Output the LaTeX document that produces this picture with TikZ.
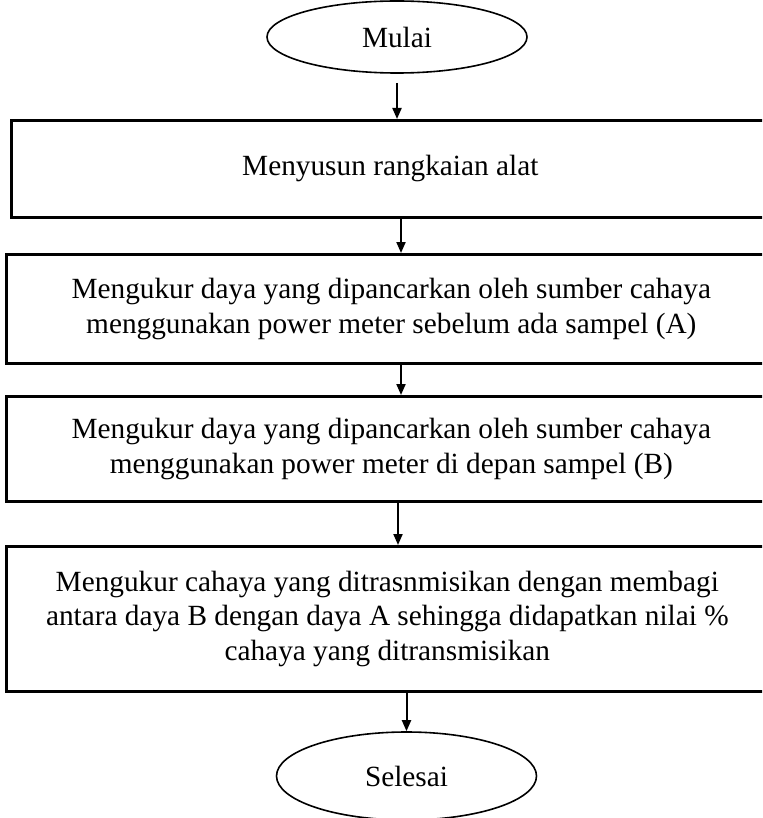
\documentclass[tikz,border=0pt]{standalone}
\usepackage{fontspec}
\setmainfont{Liberation Serif}
\usetikzlibrary{shapes.geometric,arrows.meta}
\begin{document}
\begin{tikzpicture}[x=1pt,y=-1pt,
  every node/.style={font=\fontsize{29.3}{34.5}\selectfont},
  terminal/.style={draw, line width=1.6pt, ellipse, inner sep=0pt,
    minimum width=260pt},
  stepbox/.style={draw, line width=2.6pt, rectangle, anchor=north west,
    align=center, inner sep=0pt},
  flow/.style={line width=2pt, -{Triangle[length=11pt,width=9pt]}}]
\useasboundingbox (0,0) rectangle (762,818);
\clip (0,0) rectangle (762,818);

% start and end terminals
\node[terminal, minimum height=72pt] (start) at (397,37) {Mulai};
\node[terminal, minimum height=88pt] (finish) at (406.5,776) {Selesai};

% process steps
\node[stepbox, minimum width=758pt, minimum height=97pt] (b1) at (10,119)
  {Menyusun rangkaian alat};
\node[stepbox, minimum width=770pt, minimum height=109pt] (b2) at (5,253)
  {Mengukur daya yang dipancarkan oleh sumber cahaya\\
   menggunakan power meter sebelum ada sampel (A)};
\node[stepbox, minimum width=770pt, minimum height=105pt] (b3) at (5,395)
  {Mengukur daya yang dipancarkan oleh sumber cahaya\\
   menggunakan power meter di depan sampel (B)};
\node[stepbox, minimum width=762pt, minimum height=145pt] (b4) at (5,545)
  {Mengukur cahaya yang ditrasnmisikan dengan membagi\\
   antara daya B dengan daya A sehingga didapatkan nilai \%\\
   cahaya yang ditransmisikan};

% arrow columns
\coordinate (c2) at (401,0);
\coordinate (c3) at (401,0);
\coordinate (c4) at (398,0);

\draw[flow, shorten <=9pt] (start.south) -- (b1.north -| start.south);
\draw[flow] (b1.south -| c2) -- (b2.north -| c2);
\draw[flow] (b2.south -| c3) -- (b3.north -| c3);
\draw[flow] (b3.south -| c4) -- (b4.north -| c4);
\draw[flow] (b4.south -| finish.north) -- (finish.north);
\end{tikzpicture}
\end{document}
